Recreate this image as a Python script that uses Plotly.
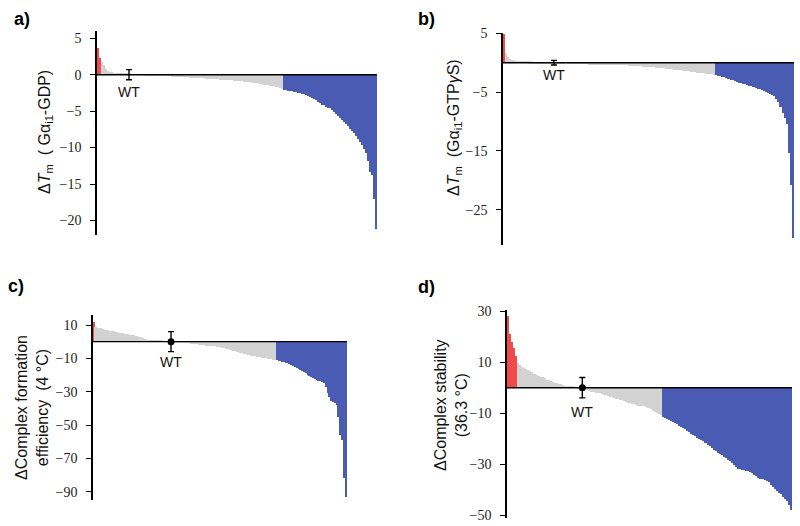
import numpy as np
import plotly.graph_objects as go

W, H = 800, 526

# ---------------- data ----------------
# Panel a: dTm (Gai1-GDP), sorted mutants
a_red = [3.6, 2.3]
a_gray = [1.7, 1.3, 0.8, 0.5, 0.4, 0.35, 0.3, 0.28, 0.25, 0.22, 0.2, 0.18, 0.15, 0.12, 0.1, 0.08, 0.05, 0.03, 0.02, 0.01, -0.01,
          -0.03, -0.05, -0.07, -0.09, -0.1, -0.12, -0.13, -0.15, -0.16, -0.18,
          -0.19, -0.21, -0.22, -0.24, -0.25, -0.27, -0.28, -0.3, -0.31, -0.33,
          -0.34, -0.36, -0.37, -0.39, -0.4, -0.42, -0.43, -0.45, -0.46, -0.48,
          -0.5, -0.52, -0.54, -0.56, -0.58, -0.6, -0.62, -0.64, -0.66, -0.68,
          -0.7, -0.72, -0.74, -0.76, -0.78, -0.8, -0.82, -0.85, -0.88, -0.91,
          -0.94, -0.97, -1.0, -1.04, -1.08, -1.12, -1.16, -1.2, -1.25, -1.3,
          -1.35, -1.4, -1.45, -1.5, -1.55, -1.6, -1.66, -1.72, -1.8, -1.9]
a_blue = [-2.1, -2.15, -2.2, -2.25, -2.3, -2.35, -2.4, -2.5, -2.55, -2.6,
          -2.7, -2.8, -2.9, -3.0, -3.2, -3.3, -3.5, -3.7, -3.9, -4.1,
          -4.2, -4.4, -4.5, -4.6, -4.8, -5.1, -5.4, -5.6, -5.9, -6.2,
          -6.5, -6.7, -7.0, -7.4, -7.7, -8.0, -8.4, -8.8, -9.2, -9.6,
          -10.2, -10.8, -11.8, -13.4, -13.8, -17.0, -21.2]
a_wt_rank, a_wt_value, a_wt_err = 15.5, 0.0, 0.7
a_ticks = [5, 0, -5, -10, -15, -20]

# Panel b: dTm (Gai1-GTPgS)
b_red = [5.0]
b_gray = [1.8, 1.1, 0.7, 0.55, 0.5, 0.45, 0.42, 0.4, 0.38, 0.36,
          0.34, 0.32, 0.3, 0.28, 0.26, 0.24, 0.22, 0.2, 0.18, 0.16,
          0.14, 0.12, 0.1, 0.08, 0.06, 0.04, 0.03, 0.02, 0.01, 0.0,
          -0.01, -0.02, -0.03, -0.05, -0.06, -0.08, -0.09, -0.1, -0.12, -0.13,
          -0.14, -0.15, -0.17, -0.18, -0.19, -0.2, -0.22, -0.23, -0.24, -0.25,
          -0.27, -0.28, -0.29, -0.3, -0.32, -0.33, -0.34, -0.36, -0.38, -0.4,
          -0.42, -0.44, -0.46, -0.48, -0.5, -0.53, -0.56, -0.59, -0.62, -0.65,
          -0.68, -0.71, -0.74, -0.77, -0.8, -0.84, -0.88, -0.92, -0.96, -1.0,
          -1.04, -1.08, -1.12, -1.16, -1.2, -1.25, -1.3, -1.35, -1.4, -1.45,
          -1.5, -1.55, -1.6, -1.64, -1.68, -1.72, -1.76, -1.8, -1.85, -1.9, -1.95]
b_blue = [-2.0, -2.1, -2.2, -2.3, -2.4, -2.5, -2.65, -2.8, -2.9, -3.0,
          -3.15, -3.3, -3.4, -3.5, -3.6, -3.75, -3.85, -3.95, -4.1, -4.2,
          -4.3, -4.45, -4.6, -4.7, -4.85, -5.0, -5.2, -5.4, -5.6, -6.0,
          -6.6, -7.5, -8.4, -9.3, -10.3, -15.2, -20.7, -29.8]
b_wt_rank, b_wt_value, b_wt_err = 24.0, 0.0, 0.4
b_ticks = [5, -5, -15, -25]

# Panel c: dComplex formation efficiency (4 C)
c_red = [12.0]
c_gray = [8.6, 8.4, 8.3, 8.2, 7.6, 7.0, 6.9, 6.8, 6.6, 6.4,
          6.2, 6.0, 5.8, 5.5, 5.2, 5.0, 4.8, 4.6, 4.5, 4.3,
          4.2, 4.0, 3.6, 3.2, 3.0, 2.6, 2.2, 1.8, 1.5, 1.2,
          1.0, 0.8, 0.7, 0.6, 0.55, 0.5, 0.45, 0.4, 0.3, 0.2,
          0.1, 0.05, -0.05, -0.15, -0.25, -0.35, -0.45, -0.55, -0.65, -0.75,
          -0.85, -0.95, -1.05, -1.2, -1.35, -1.5, -1.65, -1.8, -2.0, -2.1,
          -2.2, -2.3, -2.4, -2.5, -2.6, -2.7, -2.8, -3.0, -3.2, -3.4,
          -3.6, -3.8, -4.1, -4.4, -4.7, -5.0, -5.3, -5.6, -5.9, -6.2,
          -6.5, -6.8, -7.1, -7.4, -7.7, -8.0, -8.3, -8.6, -8.8, -9.0,
          -9.2, -9.4, -9.6, -9.8, -10.0, -10.2, -10.4, -10.6, -10.8, -10.9]
c_blue = [-11.0, -11.3, -11.6, -12.0, -12.3, -12.6, -13.0, -13.5, -14.0, -14.5,
          -15.2, -15.8, -16.5, -17.2, -17.8, -18.4, -19.0, -19.8, -20.5, -21.2,
          -21.8, -22.3, -22.8, -23.3, -23.8, -24.3, -25.0, -27.0, -30.5, -33.0,
          -35.5, -36.2, -37.0, -38.0, -45.0, -56.0, -59.0, -82.0, -93.0]
c_wt_rank, c_wt_value, c_wt_err = 42.5, 0.0, 6.0
c_ticks = [10, -10, -30, -50, -70, -90]

# Panel d: dComplex stability (36.3 C)
d_red = [28.0, 21.0, 18.0, 15.5, 12.5]
d_gray = [9.5, 8.8, 8.0, 7.6, 7.2,
          6.8, 6.5, 6.0, 5.5, 5.0, 4.6, 4.3, 4.0, 3.6, 3.2,
          2.9, 2.6, 2.3, 2.0, 1.7, 1.5, 1.3, 1.0, 0.8, 0.6,
          0.5, 0.4, 0.3, 0.2, 0.15, 0.1, 0.05, -0.1, -0.5, -0.9,
          -1.2, -1.5, -1.7, -1.9, -2.0, -2.2, -2.4, -2.7, -3.0, -3.2,
          -3.5, -3.8, -4.0, -4.3, -4.5, -4.7, -4.9, -5.2, -5.5, -5.8,
          -6.0, -6.3, -6.5, -6.8, -7.0, -7.1, -7.2, -7.3, -7.5, -7.8,
          -8.2, -9.0, -9.6, -9.9, -10.2, -10.5]
d_blue = [-11.6, -12.0, -12.3, -12.7, -13.1, -13.6, -14.0, -14.4, -14.8, -15.4,
          -15.8, -16.3, -16.8, -17.4, -18.0, -18.5, -19.0, -19.5, -19.9, -20.3,
          -20.9, -21.6, -22.3, -23.0, -23.6, -24.2, -24.8, -25.4, -26.0, -26.5,
          -27.0, -27.6, -28.2, -28.8, -29.4, -30.2, -31.0, -31.8, -32.0, -32.2,
          -32.3, -32.5, -32.7, -33.0, -33.5, -34.0, -34.6, -35.2, -35.6, -35.9,
          -36.0, -36.4, -37.1, -38.0, -38.9, -39.8, -40.5, -41.2, -41.8, -42.6,
          -43.5, -44.5, -45.8, -48.0]
d_wt_rank, d_wt_value, d_wt_err = 36.5, 0.0, 4.0
d_ticks = [30, 10, -10, -30, -50]

panel_labels = ["a)", "b)", "c)", "d)"]
y_titles = [
    "Δ<i>T</i><sub>m</sub>  ( Gα<sub>i1</sub>-GDP)",
    "Δ<i>T</i><sub>m</sub>  (Gα<sub>i1</sub>-GTP<i>γ</i>S)",
    "ΔComplex formation<br>efficiency  (4 °C)",
    "ΔComplex stability<br>(36.3 °C)",
]

# ---------------- style ----------------
RED = "#F04A4A"
GRAY = "#D2D2D2"
BLUE = "#4A5BB3"
SANS = "Liberation Sans"
SERIF = "Liberation Serif"


def pxx(x):
    return x / W


def pxy(y):
    return 1 - y / H


panels = [
    dict(red=a_red, gray=a_gray, blue=a_blue, wt=(a_wt_rank, a_wt_value, a_wt_err), ticks=a_ticks,
         xpx=(97, 377), ypx=(31, 235), yr=(-22.0, 6.0), dot=False, wt_shift=-17,
         title_c=(46, 132), lab=(12, 7)),
    dict(red=b_red, gray=b_gray, blue=b_blue, wt=(b_wt_rank, b_wt_value, b_wt_err), ticks=b_ticks,
         xpx=(503, 794), ypx=(32.5, 245), yr=(-31.0, 5.14), dot=False, wt_shift=-12,
         title_c=(455, 128), lab=(416, 7)),
    dict(red=c_red, gray=c_gray, blue=c_blue, wt=(c_wt_rank, c_wt_value, c_wt_err), ticks=c_ticks,
         xpx=(93, 347), ypx=(315, 500), yr=(-95.0, 16.0), dot=True, wt_shift=-20,
         title_c=(32, 408), lab=(6, 274)),
    dict(red=d_red, gray=d_gray, blue=d_blue, wt=(d_wt_rank, d_wt_value, d_wt_err), ticks=d_ticks,
         xpx=(507, 792), ypx=(310, 518), yr=(-51.0, 30.4), dot=True, wt_shift=-24,
         title_c=(451, 405), lab=(416, 275)),
]

fig = go.Figure()
layout = dict(
    width=W, height=H, margin=dict(l=0, r=0, t=0, b=0, pad=0, autoexpand=False),
    paper_bgcolor="white", plot_bgcolor="white", showlegend=False,
    bargap=0, annotations=[], shapes=[],
)

for k, p in enumerate(panels, start=1):
    vals = list(p["red"]) + list(p["gray"]) + list(p["blue"])
    cols = [RED] * len(p["red"]) + [GRAY] * len(p["gray"]) + [BLUE] * len(p["blue"])
    n = len(vals)
    xs = "x" if k == 1 else f"x{k}"
    ys = "y" if k == 1 else f"y{k}"
    fig.add_trace(go.Bar(
        x=np.arange(n), y=vals, width=1.0,
        marker=dict(color=cols, line=dict(width=0)),
        xaxis=xs, yaxis=ys, hoverinfo="skip",
    ))
    wr, wv, we = p["wt"]
    fig.add_trace(go.Scatter(
        x=[wr], y=[wv], mode="markers",
        marker=dict(color="black", size=7 if p["dot"] else 1),
        error_y=dict(type="data", array=[we], symmetric=True, color="black", thickness=1.4, width=3),
        xaxis=xs, yaxis=ys, hoverinfo="skip",
    ))
    xk = "xaxis" if k == 1 else f"xaxis{k}"
    yk = "yaxis" if k == 1 else f"yaxis{k}"
    layout[xk] = dict(domain=[pxx(p["xpx"][0]), pxx(p["xpx"][1])], range=[-0.5, n - 0.5],
                      visible=False, anchor=ys, fixedrange=True, automargin=False)
    layout[yk] = dict(domain=[pxy(p["ypx"][1]), pxy(p["ypx"][0])], range=list(p["yr"]),
                      anchor=xs, showgrid=False, showline=True, linecolor="black", linewidth=1.5,
                      ticks="outside", ticklen=5, tickwidth=1.2, tickcolor="black",
                      tickvals=p["ticks"], ticklabelstandoff=6, automargin=False,
                      tickfont=dict(family=SERIF, size=14, color="#222222"),
                      zeroline=False, layer="above traces", fixedrange=True)
    # zero reference line drawn above the bars
    layout["shapes"].append(dict(
        type="line", xref=f"{xs} domain", yref=ys, x0=0, x1=1, y0=0, y1=0,
        line=dict(color="black", width=1.4), layer="above",
    ))
    # WT label
    layout["annotations"].append(dict(
        x=wr, y=wv, xref=xs, yref=ys, text="WT", showarrow=False,
        yshift=p["wt_shift"], font=dict(family=SANS, size=14, color="#111111"),
    ))
    # y-axis title
    tx, ty = p["title_c"]
    layout["annotations"].append(dict(
        x=pxx(tx), y=pxy(ty), xref="paper", yref="paper", text=y_titles[k - 1],
        showarrow=False, textangle=-90, xanchor="center", yanchor="middle",
        font=dict(family=SANS, size=16, color="#111111"),
    ))
    # panel label
    lx, ly = p["lab"]
    layout["annotations"].append(dict(
        x=pxx(lx), y=pxy(ly), xref="paper", yref="paper", text=f"<b>{panel_labels[k - 1]}</b>",
        showarrow=False, xanchor="left", yanchor="top",
        font=dict(family=SANS, size=18, color="black"),
    ))

fig.update_layout(**layout)
fig.write_html("out.html", config={"displayModeBar": False},
               post_script="document.body.style.margin='0px';")
